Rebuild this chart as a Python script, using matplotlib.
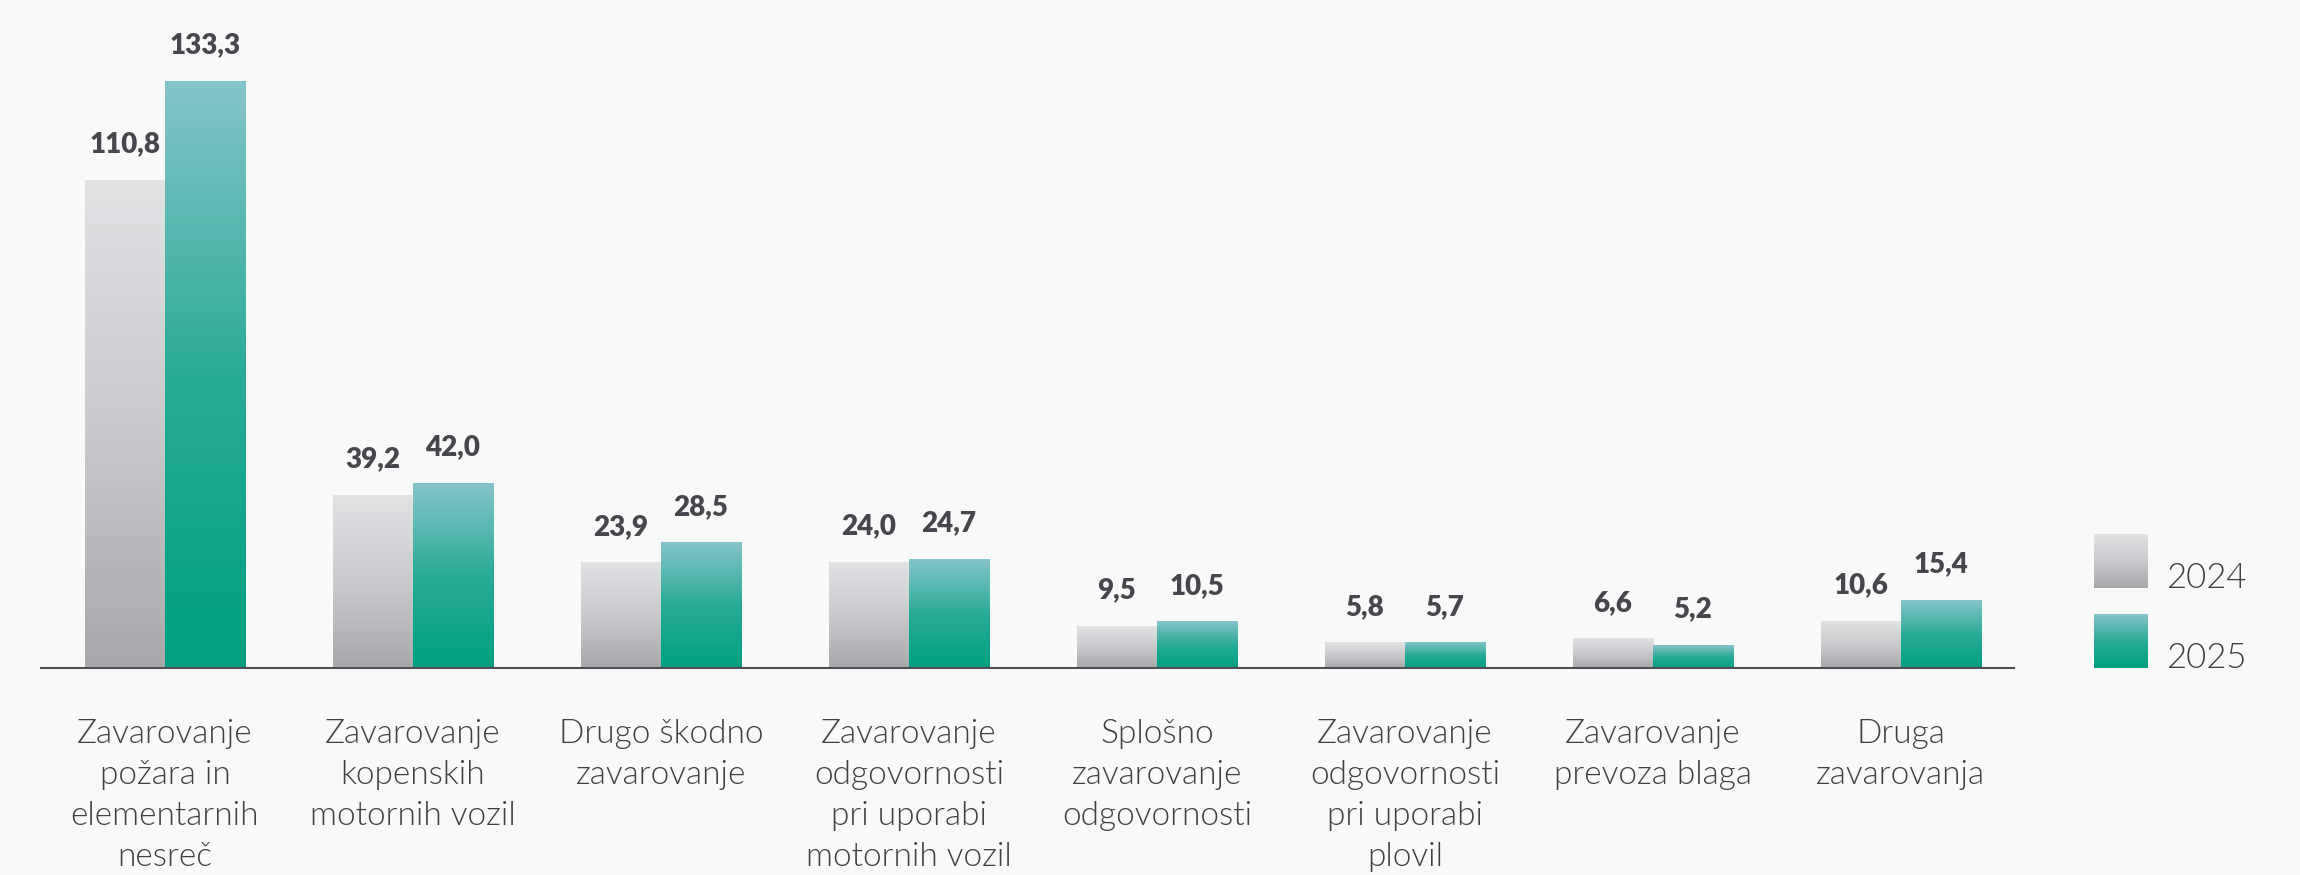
import numpy as np
import matplotlib
matplotlib.use("Agg")
import matplotlib.pyplot as plt
from matplotlib.colors import LinearSegmentedColormap

# Data (million EUR)
categories = [
    "Zavarovanje\npožara in\nelementarnih\nnesreč",
    "Zavarovanje\nkopenskih\nmotornih vozil",
    "Drugo škodno\nzavarovanje",
    "Zavarovanje\nodgovornosti\npri uporabi\nmotornih vozil",
    "Splošno\nzavarovanje\nodgovornosti",
    "Zavarovanje\nodgovornosti\npri uporabi\nplovil",
    "Zavarovanje\nprevoza blaga",
    "Druga\nzavarovanja",
]
values_2024 = [110.8, 39.2, 23.9, 24.0, 9.5, 5.8, 6.6, 10.6]
values_2025 = [133.3, 42.0, 28.5, 24.7, 10.5, 5.7, 5.2, 15.4]
series_labels = ["2024", "2025"]

BG = "#f8fafa"
TEXT = "#46474c"
gray_cmap = LinearSegmentedColormap.from_list("gray_grad", ["#a6a8ac", "#c9cacd", "#e1e2e4"])
teal_cmap = LinearSegmentedColormap.from_list("teal_grad", ["#00a080", "#2aab98", "#85c4cb"])

LABEL_FONT = ["Lato", "DejaVu Sans"]

fig = plt.figure(figsize=(23, 8.75), dpi=100, facecolor=BG)
W, H = 2300, 875
ax = fig.add_axes([41 / W, (H - 668) / H, (2014 - 41) / W, 668 / H])
ax.set_facecolor(BG)

x = np.arange(len(categories))
bw = 0.3226
bars_a = ax.bar(x - bw / 2, values_2024, width=bw, color="none")
bars_b = ax.bar(x + bw / 2, values_2025, width=bw, color="none")

grad = np.linspace(0, 1, 256).reshape(-1, 1)


def paint(bars, cmap):
    for r in bars:
        x0, y0 = r.get_x(), r.get_y()
        w, h = r.get_width(), r.get_height()
        ax.imshow(grad, cmap=cmap, origin="lower", aspect="auto",
                  extent=[x0, x0 + w, y0, y0 + h], zorder=2, interpolation="bilinear")


paint(bars_a, gray_cmap)
paint(bars_b, teal_cmap)

ax.set_xlim(-0.5, 7.456)
ax.set_ylim(0, 151.7)

for bars, vals in ((bars_a, values_2024), (bars_b, values_2025)):
    for r, v in zip(bars, vals):
        ax.annotate(f"{v:.1f}".replace(".", ","),
                    xy=(r.get_x() + r.get_width() / 2, v),
                    xytext=(0, 20), textcoords="offset points",
                    ha="center", va="baseline", fontsize=20, fontweight="heavy",
                    color=TEXT, family=LABEL_FONT, zorder=3)

for i, lab in enumerate(categories):
    ax.annotate(lab, xy=(i, 0), xytext=(0, -37), textcoords="offset points",
                ha="center", va="top", fontsize=24, fontweight=300,
                color="#3e3f44", family=LABEL_FONT, linespacing=1.45,
                annotation_clip=False)

for s in ("top", "right", "left"):
    ax.spines[s].set_visible(False)
ax.spines["bottom"].set_color("#505055")
ax.spines["bottom"].set_linewidth(1.5)
ax.set_xticks([])
ax.set_yticks([])

# Legend drawn in pixel coordinates
lg = fig.add_axes([0, 0, 1, 1], facecolor="none")
lg.axis("off")
for (top, cmap, lab) in ((534, gray_cmap, series_labels[0]), (614, teal_cmap, series_labels[1])):
    lg.imshow(grad, cmap=cmap, origin="lower", aspect="auto",
              extent=[2094, 2148, top + 54, top], interpolation="bilinear")
    lg.text(2167, top + 54, lab, ha="left", va="baseline", fontsize=25,
            fontweight=300, color="#3e3f44", family=LABEL_FONT)
lg.set_xlim(0, W)
lg.set_ylim(H, 0)

fig.savefig("out.png", dpi=100, facecolor=BG)
